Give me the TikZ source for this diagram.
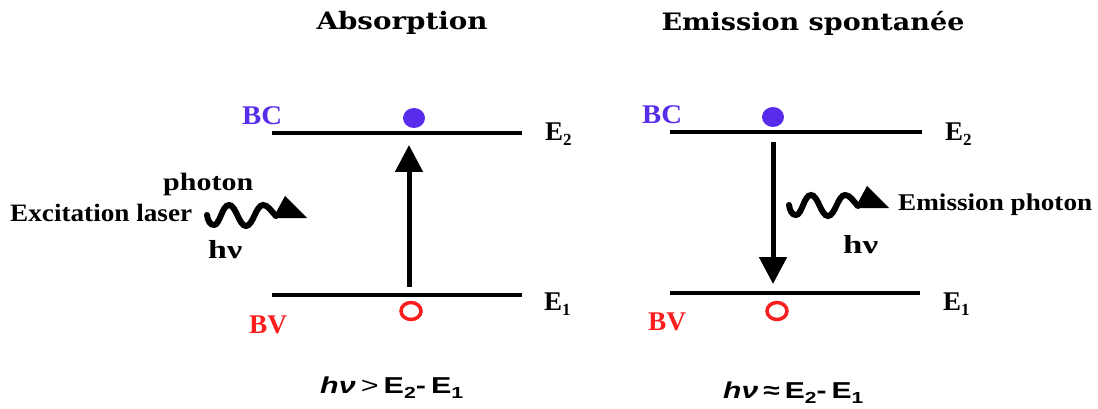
\documentclass[tikz,border=0pt]{standalone}
\usepackage{fontspec}
\setmainfont{Liberation Serif}
\newfontfamily\titlefont{DejaVu Serif}
\newfontfamily\formfont{Liberation Sans}
\usetikzlibrary{arrows.meta}
\definecolor{bcblue}{RGB}{88,44,235}
\definecolor{bvred}{RGB}{250,30,30}
\newcommand{\fitw}[2]{\resizebox{#1}{\height}{#2}}
\newcommand{\sub}[1]{\raisebox{-5pt}{\fontsize{17}{17}\selectfont #1}}
\newcommand{\fsub}[1]{\raisebox{-5pt}{\fontsize{16}{16}\selectfont #1}}
\begin{document}
\begin{tikzpicture}[x=1pt,y=-1pt,
  title/.style={font=\titlefont\bfseries\fontsize{24}{28}\selectfont, inner sep=0pt},
  lbl/.style={font=\bfseries\fontsize{25}{28}\selectfont, inner sep=0pt, anchor=base west},
  band/.style={font=\bfseries\fontsize{27}{30}\selectfont, inner sep=0pt, anchor=base west},
  elab/.style={font=\bfseries\fontsize{27}{30}\selectfont, inner sep=0pt, anchor=base west},
  form/.style={font=\formfont\bfseries\fontsize{23}{26}\selectfont, inner sep=0pt, anchor=base west},
  level/.style={line width=3.5pt},
  trans/.style={line width=5pt, -{Triangle[width=27pt,length=27pt]}},
  wave/.style={line width=6pt, line cap=round},
  electron/.style={fill=bcblue},
  hole/.style={draw=bvred, line width=3.5pt}]
\useasboundingbox (0,0) rectangle (1098,409);

% Titles
\node[title] (t1) at (402,23) {\fitw{171pt}{Absorption}};
\node[title] (t2) at (813,23) {\fitw{303pt}{Emission spontanée}};

% ---------- Left: absorption ----------
\coordinate (L2a) at (272,133); \coordinate (L2b) at (522,133);
\coordinate (L1a) at (272,295); \coordinate (L1b) at (522,295);
\draw[level] (L2a) -- (L2b);
\draw[level] (L1a) -- (L1b);
\node[band, text=bcblue] (bcL) at (242,125) {\fitw{40pt}{BC}};
\node[band, text=bvred] (bvL) at (249,333) {\fitw{38pt}{BV}};
\node[elab] (e2L) at (545,141) {E\sub{2}};
\node[elab] (e1L) at (544,310) {E\sub{1}};
\fill[electron] (414,118) ellipse [x radius=11, y radius=10];
\draw[hole] (411,311) ellipse [x radius=10, y radius=8.5];
\coordinate (aLs) at (409,287); \coordinate (aLe) at (409,145);
\draw[trans] (aLs) -- (aLe);
\node[lbl] (phL) at (163,190) {\fitw{90pt}{photon}};
\node[lbl] (exL) at (10,222) {\fitw{182pt}{Excitation laser}};
\node[lbl, font=\bfseries\fontsize{26}{28}\selectfont] (hvL) at (208,258) {\fitw{34pt}{hν}};
\begin{scope}[shift={(0,3)}]
\draw[wave] (207,212) .. controls (208,218) and (210,222) .. (214,222)
  .. controls (220,222) and (222,202) .. (229,202)
  .. controls (236,202) and (239,223) .. (246,223)
  .. controls (253,223) and (256,202) .. (263,202)
  .. controls (268,202) and (271,208) .. (276,213);
\end{scope}
\fill (273,218) -- (307,218) -- (285,196) -- cycle;
\node[form] (fL) at (320,393) {\fitw{143pt}{{\itshape hν}\,{\mdseries >}\,E\fsub{2}-\,E\fsub{1}}};

% ---------- Right: emission ----------
\coordinate (R2a) at (670,132); \coordinate (R2b) at (922,132);
\coordinate (R1a) at (670,293); \coordinate (R1b) at (920,293);
\draw[level] (R2a) -- (R2b);
\draw[level] (R1a) -- (R1b);
\node[band, text=bcblue] (bcR) at (642,124) {\fitw{40pt}{BC}};
\node[band, text=bvred] (bvR) at (648,330) {\fitw{38pt}{BV}};
\node[elab] (e2R) at (945,141) {E\sub{2}};
\node[elab] (e1R) at (943,310) {E\sub{1}};
\fill[electron] (773,117) ellipse [x radius=11, y radius=10];
\draw[hole] (777,311) ellipse [x radius=10, y radius=8.5];
\coordinate (aRs) at (773,142); \coordinate (aRe) at (773,284);
\draw[trans] (aRs) -- (aRe);
\begin{scope}[shift={(582,-7)}]
\draw[wave] (207,212) .. controls (208,218) and (210,222) .. (214,222)
  .. controls (220,222) and (222,202) .. (229,202)
  .. controls (236,202) and (239,223) .. (246,223)
  .. controls (253,223) and (256,202) .. (263,202)
  .. controls (268,202) and (271,208) .. (276,213);
\end{scope}
\begin{scope}[shift={(582,-10)}]
\fill (273,218) -- (307,218) -- (285,196) -- cycle;
\end{scope}
\node[lbl, font=\bfseries\fontsize{24}{28}\selectfont] (emR) at (898,210) {\fitw{194pt}{Emission photon}};
\node[lbl, font=\bfseries\fontsize{26}{28}\selectfont] (hvR) at (843,253) {\fitw{35pt}{hν}};
\node[form] (fR) at (723,398) {\fitw{140pt}{{\itshape hν}\,≈\,E\fsub{2}-\,E\fsub{1}}};
\end{tikzpicture}
\end{document}
